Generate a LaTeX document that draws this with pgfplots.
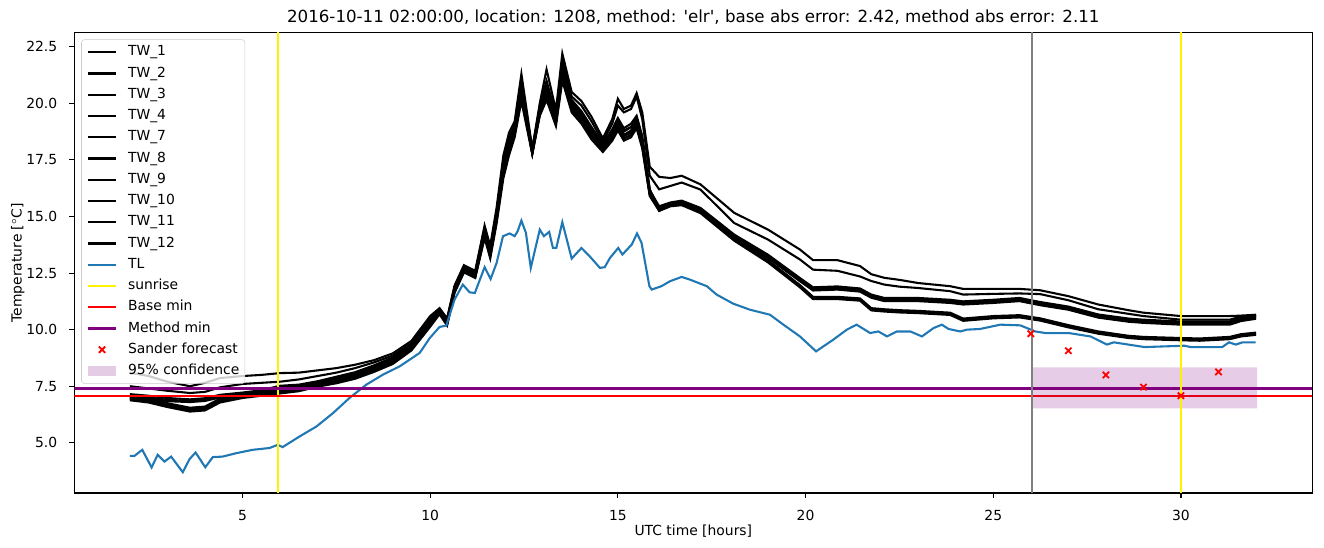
\documentclass[border=0pt]{standalone}
\usepackage{fontspec}
\setmainfont{DejaVu Sans}
\usepackage{pgfplots}
\usepackage{pgfplotstable}
\pgfplotsset{compat=1.18}

\definecolor{tabblue}{HTML}{1F77B4}
\definecolor{mplpurple}{HTML}{800080}

\pgfplotsset{
  mpl line legend/.style={legend image code/.code={\draw[mark repeat=2,mark phase=2,##1] plot coordinates {(0pt,0pt) (10pt,0pt) (20pt,0pt)};}},
  conf legend/.style={legend image code/.code={\fill[sharp corners,##1] (0pt,-3.4pt) rectangle (20pt,3.4pt);}},
}

% TW sensors: x [h], TW_1, TW_2, TW_3, TW_4, TW_7, TW_8, TW_9, TW_10, TW_11, TW_12
\pgfplotstableread{
x a b c3 c4 c7 c8 c9 d10 d11 d12
2.0 8.10 7.50 7.05 7.00 6.95 6.92 6.88 7.15 7.05 6.98
2.5 7.95 7.40 6.95 6.90 6.85 6.82 6.78 7.08 7.00 6.93
3.0 7.70 7.30 6.75 6.70 6.65 6.62 6.58 6.98 6.90 6.84
3.6 7.50 7.20 6.55 6.50 6.45 6.42 6.38 6.92 6.85 6.80
4.0 7.65 7.25 6.60 6.55 6.50 6.47 6.43 6.97 6.90 6.85
4.4 7.86 7.45 6.95 6.90 6.85 6.82 6.78 7.12 7.05 7.00
5.0 7.95 7.60 7.15 7.10 7.05 7.02 6.98 7.22 7.15 7.10
5.5 8.00 7.65 7.25 7.20 7.15 7.12 7.08 7.32 7.25 7.20
6.0 8.08 7.70 7.35 7.30 7.25 7.22 7.18 7.52 7.45 7.40
6.5 8.10 7.80 7.45 7.40 7.35 7.32 7.28 7.57 7.50 7.45
7.0 8.20 7.95 7.65 7.60 7.55 7.52 7.48 7.72 7.65 7.60
7.5 8.30 8.10 7.80 7.75 7.70 7.67 7.63 7.92 7.85 7.80
8.0 8.45 8.30 8.00 7.95 7.90 7.87 7.83 8.12 8.05 8.00
8.5 8.65 8.55 8.30 8.25 8.20 8.17 8.13 8.42 8.35 8.30
9.0 8.95 8.85 8.65 8.60 8.55 8.52 8.48 8.77 8.70 8.65
9.5 9.50 9.40 9.25 9.20 9.15 9.12 9.08 9.37 9.30 9.25
10.0 10.60 10.50 10.30 10.25 10.20 10.17 10.13 10.42 10.35 10.30
10.25 10.95 10.90 10.85 10.80 10.75 10.72 10.68 10.92 10.85 10.80
10.45 10.50 10.45 10.35 10.30 10.25 10.22 10.18 10.42 10.35 10.30
10.65 11.95 11.90 11.80 11.75 11.70 11.67 11.63 11.87 11.80 11.75
10.9 12.85 12.80 12.70 12.65 12.60 12.57 12.53 12.77 12.70 12.65
11.2 12.60 12.55 12.45 12.40 12.35 12.32 12.28 12.52 12.45 12.40
11.45 14.60 14.50 14.35 14.25 14.20 14.12 14.05 14.45 14.35 14.25
11.6 13.70 13.60 13.45 13.35 13.30 13.22 13.15 13.55 13.45 13.35
11.77 15.40 15.20 15.10 14.95 14.90 14.80 14.70 15.15 15.05 14.95
11.95 17.70 17.50 17.30 17.10 17.00 16.85 16.70 17.35 17.20 17.05
12.1 18.70 18.50 18.30 18.10 18.00 17.85 17.70 18.40 18.30 18.15
12.25 19.20 19.00 18.90 18.75 18.70 18.60 18.50 19.00 18.90 18.80
12.43 21.30 21.00 20.70 20.50 20.40 20.25 20.10 20.85 20.70 20.55
12.72 18.00 17.95 17.90 17.85 17.80 17.78 17.75 17.90 17.85 17.80
12.92 20.00 19.90 19.75 19.65 19.60 19.50 19.45 19.80 19.70 19.60
13.1 21.50 21.00 20.70 20.50 20.40 20.25 20.15 20.75 20.60 20.45
13.35 19.70 19.50 19.35 19.25 19.20 19.10 19.00 19.40 19.30 19.20
13.52 22.20 21.90 21.60 21.40 21.30 21.15 21.00 21.65 21.50 21.35
13.77 20.50 20.30 20.05 19.90 19.80 19.70 19.60 20.15 20.00 19.85
14.03 20.10 19.90 19.55 19.40 19.30 19.20 19.10 19.65 19.50 19.35
14.3 19.40 19.20 18.85 18.70 18.60 18.50 18.40 18.95 18.80 18.65
14.6 18.45 18.30 18.10 18.00 17.95 17.90 17.85 18.20 18.10 18.00
14.85 19.30 19.10 18.70 18.55 18.50 18.42 18.35 18.85 18.70 18.55
15.0 20.20 19.90 19.25 19.05 19.00 18.90 18.80 19.35 19.20 19.05
15.16 19.75 19.60 18.80 18.60 18.55 18.45 18.35 18.90 18.75 18.60
15.35 19.90 19.75 18.95 18.75 18.70 18.60 18.50 19.10 18.95 18.80
15.5 20.45 20.30 19.35 19.15 19.10 19.00 18.90 19.45 19.30 19.15
15.65 19.60 19.30 18.45 18.25 18.20 18.10 18.00 18.55 18.40 18.25
15.85 17.20 16.80 16.15 16.05 16.00 15.95 15.90 16.20 16.10 16.00
16.1 16.75 16.20 15.45 15.38 15.35 15.30 15.25 15.35 15.30 15.25
16.4 16.70 16.35 15.62 15.58 15.55 15.52 15.48 15.55 15.50 15.45
16.7 16.80 16.50 15.70 15.66 15.63 15.60 15.56 15.60 15.55 15.50
17.2 16.42 16.19 15.38 15.34 15.31 15.28 15.24 15.25 15.20 15.15
18.1 15.16 14.71 14.20 14.16 14.13 14.10 14.06 14.03 13.98 13.93
19.0 14.42 13.98 13.31 13.27 13.24 13.21 13.17 13.07 13.02 12.97
19.85 13.54 13.10 12.28 12.24 12.21 12.18 12.14 11.97 11.92 11.87
20.2 13.07 12.65 11.87 11.83 11.80 11.77 11.73 11.45 11.40 11.35
20.85 13.07 12.60 11.91 11.87 11.84 11.81 11.77 11.45 11.40 11.35
21.45 12.81 12.35 11.82 11.78 11.75 11.72 11.68 11.38 11.33 11.28
21.75 12.45 12.15 11.55 11.51 11.48 11.45 11.41 10.95 10.90 10.85
22.1 12.29 11.99 11.40 11.36 11.33 11.30 11.26 10.90 10.85 10.80
22.5 12.20 11.90 11.40 11.36 11.33 11.30 11.26 10.86 10.81 10.76
23.0 12.06 11.84 11.40 11.36 11.33 11.30 11.26 10.83 10.78 10.73
23.85 11.92 11.70 11.32 11.28 11.25 11.22 11.18 10.75 10.70 10.65
24.2 11.80 11.55 11.25 11.21 11.18 11.15 11.11 10.49 10.44 10.39
25.0 11.80 11.58 11.32 11.28 11.25 11.22 11.18 10.60 10.55 10.50
25.7 11.80 11.60 11.40 11.36 11.33 11.30 11.26 10.64 10.59 10.54
26.25 11.74 11.57 11.22 11.18 11.15 11.12 11.08 10.50 10.45 10.40
27.0 11.48 11.30 11.02 10.98 10.95 10.92 10.88 10.20 10.15 10.10
27.8 11.11 10.90 10.67 10.63 10.60 10.57 10.53 9.92 9.87 9.82
28.6 10.86 10.70 10.49 10.45 10.42 10.39 10.35 9.73 9.68 9.63
29.0 10.75 10.60 10.44 10.40 10.37 10.34 10.30 9.68 9.63 9.58
30.0 10.60 10.44 10.36 10.32 10.29 10.26 10.22 9.63 9.58 9.53
30.5 10.60 10.44 10.36 10.32 10.29 10.26 10.22 9.61 9.56 9.51
31.3 10.60 10.44 10.36 10.32 10.29 10.26 10.22 9.68 9.63 9.58
31.6 10.62 10.58 10.52 10.48 10.45 10.42 10.38 9.80 9.75 9.70
32.0 10.66 10.60 10.62 10.58 10.55 10.52 10.48 9.87 9.82 9.77
}\tw

% TL air temperature
\pgfplotstableread{
x y
2.00 4.42
2.12 4.42
2.33 4.69
2.58 3.91
2.74 4.47
2.92 4.17
3.10 4.39
3.41 3.70
3.59 4.28
3.75 4.57
4.01 3.92
4.21 4.37
4.47 4.39
4.83 4.54
5.27 4.69
5.72 4.77
5.94 4.91
6.07 4.81
6.52 5.28
6.97 5.72
7.41 6.31
7.85 6.98
8.30 7.57
8.74 8.01
9.19 8.38
9.72 8.97
9.99 9.63
10.25 10.12
10.43 10.18
10.65 11.33
10.87 11.99
11.05 11.65
11.19 11.62
11.45 12.76
11.61 12.24
11.77 12.95
11.94 14.13
12.12 14.25
12.25 14.13
12.33 14.35
12.43 14.82
12.55 14.28
12.68 12.73
12.92 14.42
13.03 14.13
13.17 14.32
13.27 13.61
13.36 13.61
13.52 14.75
13.77 13.14
14.03 13.61
14.25 13.24
14.52 12.73
14.65 12.76
14.79 13.17
15.01 13.61
15.12 13.32
15.37 13.76
15.51 14.25
15.63 13.84
15.84 11.92
15.90 11.77
16.16 11.92
16.39 12.14
16.70 12.33
16.92 12.21
17.37 11.92
17.63 11.55
18.07 11.15
18.52 10.88
19.05 10.66
19.41 10.22
19.85 9.70
20.28 9.04
20.74 9.56
21.10 10.00
21.36 10.22
21.72 9.85
21.94 9.92
22.17 9.70
22.43 9.92
22.79 9.92
23.10 9.70
23.41 10.07
23.63 10.22
23.81 10.03
24.12 9.92
24.30 10.00
24.65 10.03
25.19 10.22
25.72 10.19
26.12 9.92
26.39 9.85
27.01 9.85
27.59 9.70
28.03 9.34
28.21 9.44
29.03 9.23
30.09 9.29
30.26 9.23
31.10 9.23
31.28 9.44
31.46 9.34
31.64 9.44
31.99 9.44
}\tl

\begin{document}
\begin{tikzpicture}[font=\fontsize{10}{12}\selectfont]
\begin{axis}[
  name=ax, at={(0,0)}, anchor=south west,
  scale only axis, width=891.4pt, height=331.6pt,
  xmin=0.52, xmax=33.5, ymin=2.78, ymax=23.13,
  xtick={5,10,...,30}, ytick={5,7.5,...,22.5},
  xtick pos=bottom, ytick pos=left,
  tick align=outside, major tick length=3.5pt,
  every tick/.style={black, line width=0.8pt},
  axis line style={line width=0.8pt},
  /pgf/number format/assume math mode=true,
  yticklabel style={/pgf/number format/fixed, /pgf/number format/fixed zerofill, /pgf/number format/precision=1,
    anchor=east, inner sep=0pt, xshift=-8.6pt},
  xticklabel style={anchor=base, inner sep=0pt, yshift=-16.6pt},
  title={2016-10-11 02:00:00, location: 1208, method: \textquotesingle elr\textquotesingle, base abs error: 2.42, method abs error: 2.11},
  title style={at={(axis description cs:0.5,1)}, anchor=base, yshift=1.5pt, inner sep=0pt, font=\fontsize{12}{14}\selectfont},
  xlabel={UTC time [hours]},
  xlabel style={at={(axis description cs:0.5,-0.0925)}, anchor=base, inner sep=0pt},
  ylabel={Temperature [$^\circ$C]},
  ylabel style={at={(axis description cs:-0.0425,0.5)}, anchor=base, inner sep=0pt},
  legend cell align=left,
  mpl line legend,
  legend style={at={(0,1)}, anchor=north west, xshift=5pt, yshift=-5pt,
    draw=black!20, rounded corners=2pt, fill=white, fill opacity=0.8, text opacity=1,
    inner xsep=4pt, inner ysep=4pt, row sep=5.3pt, column sep=8pt,
    nodes={inner sep=0pt, text height=7.6pt, text depth=2.4pt},
    font=\fontsize{10}{12}\selectfont},
]
\addplot[black, line width=1.5pt] table[x=x, y=a] {\tw};
\addlegendentry{TW\_1}
\addplot[black, line width=1.5pt] table[x=x, y=b] {\tw};
\addlegendentry{TW\_2}
\addplot[black, line width=1.5pt] table[x=x, y=c3] {\tw};
\addlegendentry{TW\_3}
\addplot[black, line width=1.5pt] table[x=x, y=c4] {\tw};
\addlegendentry{TW\_4}
\addplot[black, line width=1.5pt] table[x=x, y=c7] {\tw};
\addlegendentry{TW\_7}
\addplot[black, line width=1.5pt] table[x=x, y=c8] {\tw};
\addlegendentry{TW\_8}
\addplot[black, line width=1.5pt] table[x=x, y=c9] {\tw};
\addlegendentry{TW\_9}
\addplot[black, line width=1.5pt] table[x=x, y=d10] {\tw};
\addlegendentry{TW\_10}
\addplot[black, line width=1.5pt] table[x=x, y=d11] {\tw};
\addlegendentry{TW\_11}
\addplot[black, line width=1.5pt] table[x=x, y=d12] {\tw};
\addlegendentry{TW\_12}
\addplot[tabblue, line width=1.5pt] table[x=x, y=y] {\tl};
\addlegendentry{TL}
\addplot[yellow, line width=1.5pt] coordinates {(5.94,2.78) (5.94,23.13)};
\addlegendentry{sunrise}
\addplot[red, line width=1.5pt] coordinates {(0.52,7.08) (33.5,7.08)};
\addlegendentry{Base min}
\addplot[mplpurple, line width=1.5pt] coordinates {(0.52,7.40) (33.5,7.40)};
\addlegendentry{Method min}
\addplot[red, only marks, mark=x, mark size=3.2pt, line width=1.3pt] coordinates {(26,9.82) (27,9.07) (28,8.00) (29,7.46) (30,7.08) (31,8.13)};
\addlegendentry{Sander forecast}
\addplot[draw=none, fill=mplpurple, fill opacity=0.2, conf legend]
  coordinates {(26.03,6.52) (32.03,6.52) (32.03,8.33) (26.03,8.33) (26.03,6.52)};
\addlegendentry{95\% confidence}
\addplot[yellow, line width=1.5pt, forget plot] coordinates {(30.0,2.78) (30.0,23.13)};
\addplot[gray, line width=1.5pt, forget plot] coordinates {(26.02,2.78) (26.02,23.13)};
\end{axis}
\pgfresetboundingbox
\path[use as bounding box] (-53.5pt,-38.9pt) rectangle (899.8pt,355pt);
\end{tikzpicture}
\end{document}
